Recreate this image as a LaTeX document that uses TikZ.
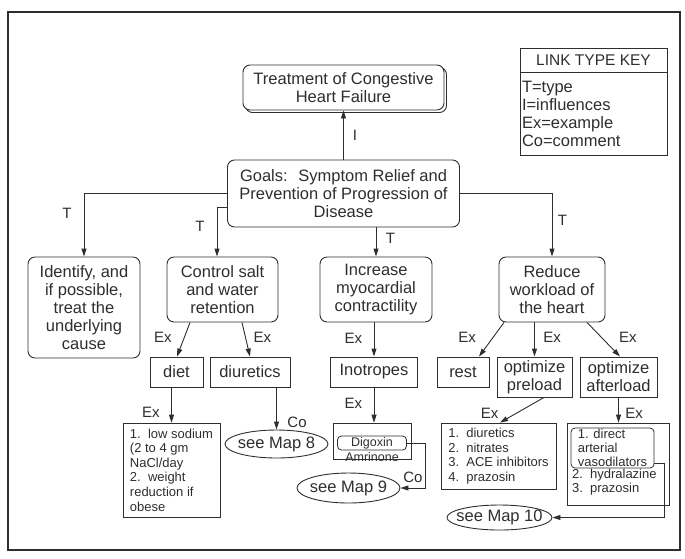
\documentclass[tikz,border=0pt]{standalone}
\usepackage{fontspec}
\setmainfont{Liberation Sans}
\usetikzlibrary{positioning, arrows.meta, shapes.geometric, shadows}

\definecolor{ink}{HTML}{2E2E2E}

\tikzset{
  goalbox/.style={draw, rounded corners=7pt, align=center, inner sep=2pt,
    font=\fontsize{16.5}{18}\selectfont},
  itembox/.style={draw, align=center, inner sep=2pt,
    font=\fontsize{16.5}{18}\selectfont},
  listbox/.style={draw, align=left, inner sep=2pt, line width=0.8pt,
    font=\fontsize{13}{14.6}\selectfont},
  subbox/.style={draw, rounded corners=4pt, inner sep=0.5pt, line width=0.8pt,
    font=\fontsize{13}{14.2}\selectfont},
  drugtext/.style={inner sep=0pt, font=\fontsize{13}{14.6}\selectfont},
  mapref/.style={draw, ellipse, inner xsep=-6pt, inner ysep=0pt,
    font=\fontsize{16.5}{18}\selectfont},
  keybox/.style={draw, minimum width=147pt, inner sep=2pt},
  lbl/.style={inner sep=0pt, font=\fontsize{15}{15}\selectfont},
}

\begin{document}
\begin{tikzpicture}[x=1pt, y=1pt, on grid, color=ink, line width=0.9pt,
    >={Triangle[length=8pt, width=5pt]}]
   \useasboundingbox (0,0) rectangle (685,-558);
   % Frame round the map
   \draw[line width=1.4pt] (8,-12) rectangle (680,-550);

   % Key of the link types
   \node[keybox, minimum height=24pt, font=\fontsize{15.5}{16}\selectfont] (keyhead) at (593.5,-60) {LINK TYPE KEY};
   \node[keybox, align=left, text width=143pt, minimum height=83pt, font=\fontsize{16.5}{18}\selectfont] (keybody) [below=53.5pt of keyhead] {T=type\\I=influences\\Ex=example\\Co=comment};

   % Top and goals
   \node[goalbox, fill=white, copy shadow={shadow xshift=2.5pt, shadow yshift=-2.5pt}, minimum width=201pt, minimum height=45pt] (top) at (343.5,-87.5) {Treatment of Congestive\\Heart Failure};
   \node[goalbox, minimum width=232pt, minimum height=67pt] (goals) [below=106pt of top] {Goals:~ Symptom Relief and\\Prevention of Progression of\\Disease};

   % Second level
   \node[goalbox, minimum width=112pt, minimum height=101pt] (identify) [below left=114pt and 259.5pt of goals] {Identify, and\\if possible,\\treat the\\underlying\\cause};
   \node[goalbox, minimum width=111pt, minimum height=65pt] (control) [below left=96pt and 121pt of goals] {Control salt\\and water\\retention};
   \node[goalbox, minimum width=112pt, minimum height=65pt] (increase) [below right=96pt and 32.5pt of goals] {Increase\\myocardial\\contractility};
   \node[goalbox, minimum width=106pt, minimum height=65pt] (reduce) [below right=96pt and 208.5pt of goals] {Reduce\\workload of\\the heart};

   % Third level
   \node[itembox, minimum width=53pt, minimum height=30pt] (diet) [below left=82.5pt and 46pt of control] {diet};
   \node[itembox, minimum width=80pt, minimum height=30pt] (diuretics) [below right=82.5pt and 27.5pt of control] {diuretics};
   \node[itembox, minimum width=87pt, minimum height=30pt] (inotropes) [below left=82.5pt and 2pt of increase] {Inotropes};
   \node[itembox, minimum width=52pt, minimum height=30pt] (rest) [below left=82.5pt and 89pt of reduce] {rest};
   \node[itembox, minimum width=75pt, minimum height=40pt] (preload) [below left=87.5pt and 17.5pt of reduce] {optimize\\preload};
   \node[itembox, minimum width=77pt, minimum height=40pt] (afterload) [below right=87.5pt and 66.5pt of reduce] {optimize\\afterload};

   % Examples and references
   \node[listbox, minimum width=97pt, minimum height=94pt] (sodium) [below left=98pt and 5pt of diet] {1.\ \ low sodium\\(2 to 4 gm\\NaCl/day\\2.\ \ weight\\reduction if\\obese};
   \node[mapref, minimum width=103pt, minimum height=28pt] (map8) [below right=72pt and 26.5pt of diuretics] {see Map 8};

   \node[listbox, minimum width=78pt, minimum height=36pt] (inolist) [below left=69pt and 2pt of inotropes] {};
   \node[subbox, minimum width=69pt, minimum height=14pt, font=\fontsize{12.5}{13}\selectfont] (digoxin) [below=13pt of inolist.north] {Digoxin};
   \node[drugtext, font=\fontsize{12.5}{13}\selectfont] (amrinone) [below=14.5pt of digoxin] {Amrinone};
   \node[mapref, minimum width=103pt, minimum height=30pt] (map9) [below left=47pt and 23.5pt of inolist] {see Map 9};

   \node[listbox, minimum width=115pt, minimum height=66pt] (plist) [below left=79pt and 36pt of preload] {1.\ \ diuretics\\2.\ \ nitrates\\3.\ \ ACE inhibitors\\4.\ \ prazosin};
   \node[listbox, minimum width=102pt, minimum height=82pt] (alist) [below left=87pt and 0.5pt of afterload] {};
   \node[subbox, align=left, minimum width=83pt, minimum height=40pt] (direct) [above left=16pt and 5.5pt of alist] {1. direct\\arterial\\vasodilators};
   \node[drugtext, align=left, anchor=north west] (hydralazine) at ([xshift=1pt]direct.south west) {2.\ \ hydralazine\\3.\ \ prazosin};
   \node[mapref, minimum width=105pt, minimum height=25pt] (map10) [below right=61.5pt and 1pt of plist] {see Map 10};

   % Type links
   \draw[->] (goals.west) -| node[lbl, pos=0.655, left=12pt] {T} (identify.north);
   \draw[->] ([yshift=-13.5pt]goals.west) -| node[lbl, pos=0.7, left=12pt] {T} ([xshift=-5.5pt]control.north);
   \draw[->] (goals.east) -| node[lbl, pos=0.71, right=5.5pt] {T} (reduce.north);

   % Straight links
   \path[->]
    (goals.north) edge node[lbl, right=9pt] {I} (top.south)
    (goals.south -| increase.north) edge node[lbl, pos=0.37, right=9.5pt] {T} (increase.north)
    ([xshift=-32.5pt]control.south) edge node[lbl, pos=0.45, left=12pt] {Ex} ([xshift=0.5pt]diet.north)
    ([xshift=19.5pt]control.south) edge node[lbl, pos=0.45, right=7.5pt] {Ex} (diuretics.north)
    (diet.south -| sodium.north) edge node[lbl, pos=0.72, left=11.5pt] {Ex} (sodium.north)
    (diuretics.south -| map8.north) edge node[lbl, pos=0.84, right=10.5pt] {Co} (map8.north)
    (increase.south -| inotropes.north) edge node[lbl, pos=0.46, left=11.5pt] {Ex} (inotropes.north)
    (inotropes.south) edge node[lbl, pos=0.44, left=11.5pt] {Ex} (inotropes.south |- inolist.north)
    ([xshift=-48pt]reduce.south) edge node[lbl, pos=0.43, left=17pt] {Ex} ([xshift=16pt]rest.north)
    (reduce.south -| preload.north) edge node[lbl, pos=0.43, right=8.5pt] {Ex} (preload.north)
    ([xshift=35pt]reduce.south) edge node[lbl, pos=0.43, right=17.5pt] {Ex} ([xshift=1.5pt]afterload.north)
    ([xshift=9.5pt]preload.south) edge node[lbl, pos=0.62, left=18pt] {Ex} ([xshift=1.5pt]plist.north)
    (afterload.south) edge node[lbl, pos=0.62, right=6.5pt] {Ex} (afterload.south |- alist.north);

   % Comment links
   \draw[->] (digoxin.east) -- ++(19pt,0) |- node[lbl, pos=0.38, left=3pt] {Co} (map9.east);
   \draw[->] ([yshift=-15pt]direct.east) -- ++(10pt,0) |- (map10.east);
\end{tikzpicture}
\end{document}
